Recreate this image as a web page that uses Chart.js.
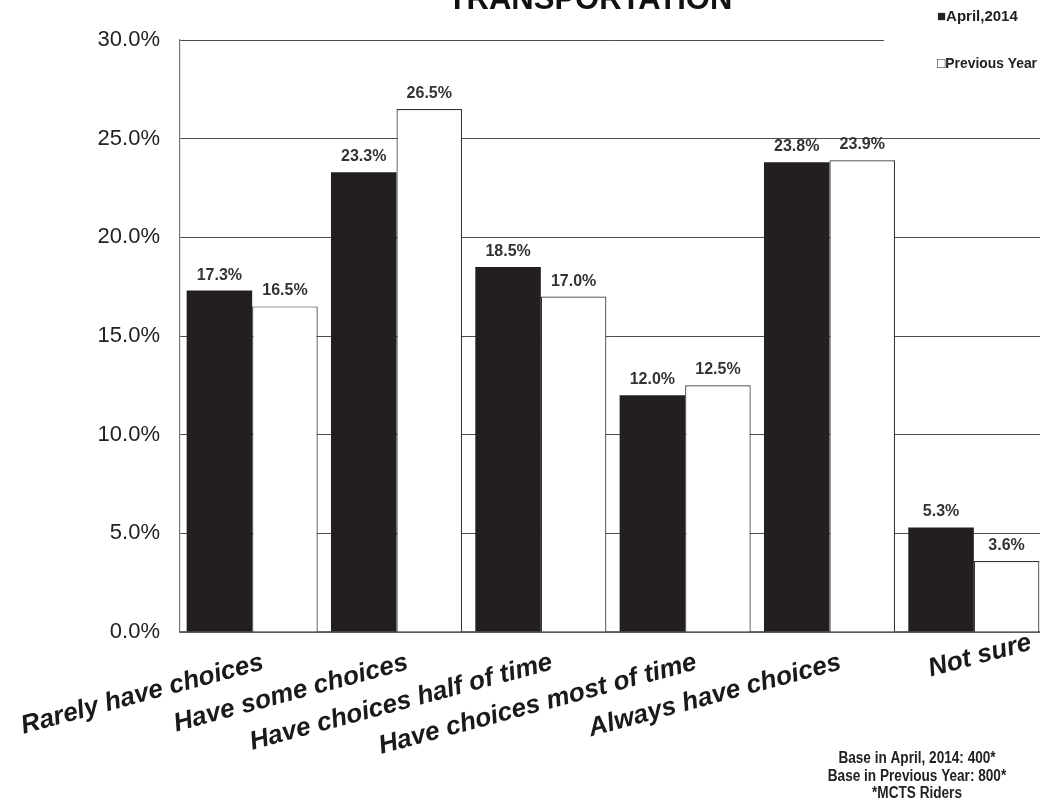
<!DOCTYPE html>
<html>
<head>
<meta charset="utf-8">
<title>Transportation</title>
<script src="https://cdn.jsdelivr.net/npm/chart.js@4/dist/chart.umd.min.js"></script>
<style>
  html, body { margin: 0; padding: 0; background: #fff; overflow: hidden; }
  #wrap { width: 1046px; height: 810px; }
</style>
</head>
<body>
<div id="wrap"><canvas id="c" width="1046" height="810"></canvas></div>
<script>
// Survey answers: how often riders have transportation choices
const categories = [
  'Rarely have choices',
  'Have some choices',
  'Have choices half of time',
  'Have choices most of time',
  'Always have choices',
  'Not sure'
];
const april2014 = [17.3, 23.3, 18.5, 12.0, 23.8, 5.3];
const previousYear = [16.5, 26.5, 17.0, 12.5, 23.9, 3.6];
const yTicks = [0, 5, 10, 15, 20, 25, 30];
const seriesNames = ['April,2014', 'Previous Year'];
const titleText = 'TRANSPORTATION';
const footnoteLines = ['Base in April, 2014: 400*', 'Base in Previous Year: 800*', '*MCTS Riders'];

const SANS = '"Liberation Sans", Arial, sans-serif';
const LABEL_ANGLE = 15 * Math.PI / 180;

// Draws text squeezed horizontally by factor sx
function condensedText(ctx, text, x, y, sx) {
  ctx.save();
  ctx.translate(x, y);
  ctx.scale(sx, 1);
  ctx.fillText(text, 0, 0);
  ctx.restore();
}

// Slanted category names under the axis: long names end at the tick,
// short ones sit centred on it
const categoryLabels = {
  id: 'categoryLabels',
  afterDraw(chart) {
    const ctx = chart.ctx;
    const xs = chart.scales.x;
    const catWidth = xs.width / categories.length;
    ctx.save();
    ctx.fillStyle = '#1a1a1a';
    ctx.font = 'italic bold 26px ' + SANS;
    ctx.textBaseline = 'middle';
    categories.forEach((name, i) => {
      const px = xs.getPixelForValue(i);
      const w = ctx.measureText(name).width;
      ctx.save();
      if (w * Math.cos(LABEL_ANGLE) <= catWidth) {
        ctx.translate(px + 6, xs.top + 24);
        ctx.rotate(-LABEL_ANGLE);
        ctx.textAlign = 'center';
      } else {
        ctx.translate(px + 11, xs.top + 30);
        ctx.rotate(-LABEL_ANGLE);
        ctx.textAlign = 'right';
      }
      ctx.fillText(name, 0, 0);
      ctx.restore();
    });
    ctx.restore();
  }
};

// Percent labels above each bar, the title, legend and base notes
const annotations = {
  id: 'annotations',
  afterDatasetsDraw(chart) {
    const ctx = chart.ctx;
    ctx.save();
    ctx.fillStyle = '#333';
    ctx.font = 'bold 16px ' + SANS;
    ctx.textAlign = 'center';
    ctx.textBaseline = 'alphabetic';
    chart.data.datasets.forEach((ds, di) => {
      chart.getDatasetMeta(di).data.forEach((bar, i) => {
        ctx.fillText(ds.data[i].toFixed(1) + '%', bar.x, bar.y - 11);
      });
    });
    ctx.restore();
  },
  afterDraw(chart) {
    const ctx = chart.ctx;
    ctx.save();
    // title (its upper part runs off the top edge)
    ctx.fillStyle = '#111';
    ctx.font = 'bold 31px ' + SANS;
    ctx.textAlign = 'center';
    ctx.textBaseline = 'alphabetic';
    ctx.fillText(titleText, 590, 9);

    // legend panel
    ctx.fillStyle = '#fff';
    ctx.fillRect(884, 0, 170, 82);
    ctx.fillStyle = '#222';
    ctx.font = 'bold 15px ' + SANS;
    ctx.textAlign = 'left';
    ctx.fillText('\u25A0' + seriesNames[0], 937, 21, 96);
    ctx.fillText('\u25A1' + seriesNames[1], 937, 68, 100);

    // base notes, in a condensed face
    ctx.font = 'bold 16px ' + SANS;
    ctx.textAlign = 'center';
    footnoteLines.forEach((line, k) => {
      condensedText(ctx, line, 917, 763 + k * 17.5, 0.85);
    });
    ctx.restore();
  }
};

new Chart(document.getElementById('c'), {
  type: 'bar',
  data: {
    labels: categories,
    datasets: [
      {
        label: seriesNames[0],
        data: april2014,
        backgroundColor: '#231f20',
        borderColor: '#231f20',
        borderWidth: 0
      },
      {
        label: seriesNames[1],
        data: previousYear,
        backgroundColor: '#ffffff',
        borderColor: '#333333',
        borderWidth: 1.2,
        borderSkipped: 'bottom'
      }
    ]
  },
  options: {
    responsive: false,
    animation: false,
    devicePixelRatio: 1,
    datasets: { bar: { categoryPercentage: 0.908, barPercentage: 1.0 } },
    layout: { padding: { top: 40, right: 0, bottom: 0, left: 0 } },
    plugins: {
      legend: { display: false },
      title: { display: false },
      tooltip: { enabled: false }
    },
    scales: {
      x: {
        grid: { display: false },
        border: { display: true, color: '#666', width: 1.5 },
        ticks: { display: false },
        afterFit(scale) { scale.height = 178; }
      },
      y: {
        min: 0,
        max: 30,
        afterBuildTicks(scale) { scale.ticks = yTicks.map(v => ({ value: v })); },
        grid: { color: '#4d4d4d', lineWidth: 1, drawTicks: false },
        border: { display: true, color: '#777', width: 1.2 },
        ticks: {
          color: '#222',
          font: { family: SANS, size: 22 },
          padding: 20,
          callback: v => Number(v).toFixed(1) + '%'
        },
        afterFit(scale) { scale.width = 180; }
      }
    }
  },
  plugins: [annotations, categoryLabels]
});
</script>
</body>
</html>
